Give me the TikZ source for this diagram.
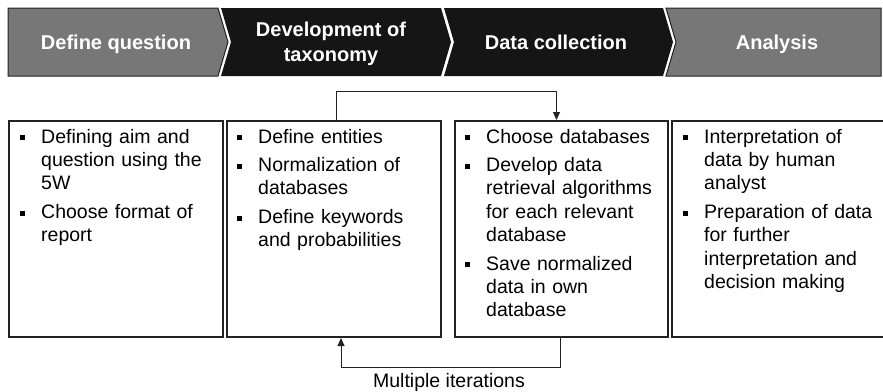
\documentclass[tikz,border=0pt]{standalone}
\usepackage{fontspec}
\setmainfont{Liberation Sans}
\usetikzlibrary{arrows.meta}
\definecolor{hgray}{HTML}{777777}
\definecolor{hblack}{HTML}{151515}
\definecolor{hline}{HTML}{222222}
\newcommand{\bul}{\leavevmode\llap{\rule[2.6pt]{5pt}{5pt}\hspace{16pt}}}
\begin{document}
\begin{tikzpicture}[x=1pt,y=-1pt,
  hdr/.style={text=white,font=\bfseries\fontsize{20}{24.5}\selectfont,align=center,inner sep=0pt},
  box/.style={draw=hline, line width=2pt, minimum width=#1, minimum height=216pt, anchor=north west, inner sep=0pt},
  body/.style={font=\fontsize{19.5}{23.4}\selectfont, text width=200pt, align=left, anchor=base west, inner sep=0pt},
  conn/.style={line width=1pt, draw=hline, -{Triangle[length=8pt,width=7pt]}}]
\useasboundingbox (0,0) rectangle (883,391);
% header chevrons
\filldraw[fill=hgray,draw=hline,line width=1pt] (8,8) -- (218,8) -- (228,42) -- (218,76) -- (8,76) -- cycle;
\fill[hblack] (221,8) -- (441,8) -- (451,42) -- (441,76) -- (221,76) -- (231,42) -- cycle;
\fill[hblack] (444,8) -- (663,8) -- (673,42) -- (663,76) -- (444,76) -- (454,42) -- cycle;
\filldraw[fill=hgray,draw=hline,line width=1pt] (666,8) -- (881,8) -- (881,76) -- (666,76) -- (676,42) -- cycle;
\node[hdr,anchor=base] (h1) at (116,49) {Define question};
\node[hdr] (h2) at (331,44) {Development of\\taxonomy};
\node[hdr,anchor=base] (h3) at (556,49) {Data collection};
\node[hdr,anchor=base] (h4) at (777,49) {Analysis};
% boxes
\node[box=214pt] (b1) at (8,120) {};
\node[box=214pt] (b2) at (226,120) {};
\node[box=213pt] (b3) at (454,120) {};
\node[box=215pt] (b4) at (671,120) {};
% contents
\node[body] (t1) at (41,143) {\bul Defining aim and\\question using the\\5W\\[5pt]\bul Choose format of\\report};
\node[body] (t2) at (258,143) {\bul Define entities\\[5pt]\bul Normalization of\\databases\\[5pt]\bul Define keywords\\and probabilities};
\node[body] (t3) at (486,143) {\bul Choose databases\\[5pt]\bul Develop data\\retrieval algorithms\\for each relevant\\database\\[5pt]\bul Save normalized\\data in own\\database};
\node[body] (t4) at (704,143) {\bul Interpretation of\\data by human\\analyst\\[5pt]\bul Preparation of data\\for further\\interpretation and\\decision making};
% connectors
\draw[conn] ([xshift=2pt]b2.north) -- ++(0,-29) -| ([xshift=-5pt]b3.north);
\draw[conn] ([xshift=-1pt]b3.south) -- ++(0,29) -| ([xshift=7pt]b2.south);
\node[font=\fontsize{19.5}{23.4}\selectfont, anchor=base, inner sep=0pt] (lbl) at (449,387) {Multiple iterations};
\end{tikzpicture}
\end{document}
